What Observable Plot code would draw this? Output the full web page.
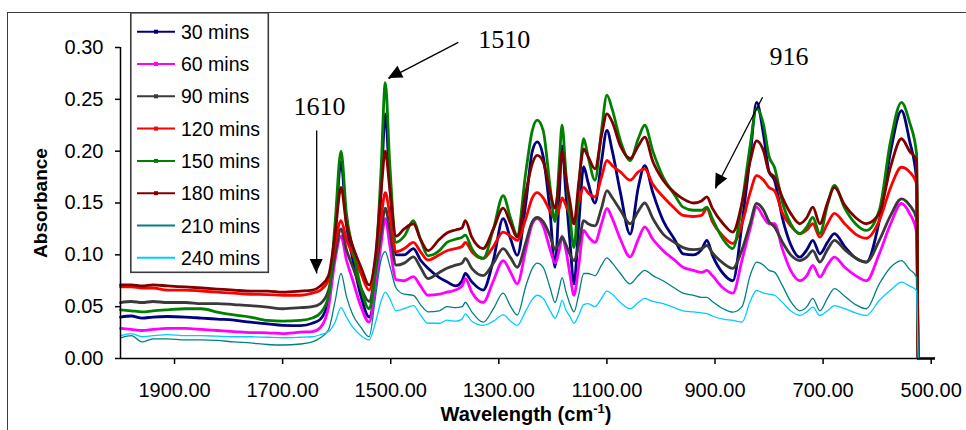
<!DOCTYPE html>
<html><head><meta charset="utf-8">
<script src="https://cdn.jsdelivr.net/npm/d3@7"></script>
<script src="https://cdn.jsdelivr.net/npm/@observablehq/plot@0.6"></script>
<style>
body{margin:0;background:#fff;}
#wrap{position:relative;width:966px;height:430px;overflow:hidden;font-family:Arial,"Liberation Sans",sans-serif;}
#border{position:absolute;left:7px;top:12px;width:1000px;height:1000px;border:1.6px solid #3c3c3c;box-sizing:border-box;}
#chart{position:absolute;left:0;top:0;}
#legend{position:absolute;left:130px;top:12px;}
</style></head>
<body><div id="wrap"><div id="border"></div><div id="chart"></div><div id="legend"></div></div>
<script>
// Wavenumber (cm-1) sample positions
const wavenumbers = [2000,1980,1960,1940,1913,1880,1850,1821,1790,1760,1728,1700,1667,1645,
1630,1615,1603,1592,1582,1570,1555,1540,1528,1518,1510,1502,1490,1475,1458,1445,1431,1410,1396,1380,1368,1362,1350,1329,1310,1292,1278,1266,1250,1238,1229,1218,1205,1196,1188,1183,1176,1168,1161,1152,1143,1135,1122,1110,1100,1090,1075,1057,1042,1030,1015,996,975,959,940,925,915,905,885,867,850,835,823,810,800,790,775,760,743,730,719,706,692,679,660,640,620,596,575,555,540,527,524,496];

const seriesNames = ["30 mins","60 mins","90 mins","120 mins","150 mins","180 mins","210 mins","240 mins"];
const seriesColors = ["#000080","#ff00ff","#3a3a3a","#ff0000","#008000","#800000","#008080","#00ccff"];

const s30 = [.040,.041,.039,.040,.0405,.040,.039,.038,.037,.035,.0334,.032,.0318,.034,
.038,.057,.120,.190,.130,.095,.060,.040,.080,.160,.236,.170,.100,.100,.106,.095,.087,.078,.074,.070,.075,.082,.074,.066,.095,.135,.115,.0995,.150,.200,.209,.195,.140,.088,.160,.205,.160,.110,.072,.130,.185,.170,.150,.190,.220,.200,.160,.120,.165,.186,.160,.133,.115,.101,.100,.105,.114,.100,.082,.075,.130,.195,.247,.215,.180,.172,.135,.110,.0977,.105,.114,.101,.112,.1205,.108,.097,.093,.133,.200,.239,.210,.172,0,0];
const s60 = [.029,.028,.027,.028,.029,.029,.028,.027,.026,.025,.0248,.024,.0254,.026,
.030,.050,.095,.118,.095,.075,.050,.035,.070,.110,.135,.110,.076,.075,.079,.070,.061,.062,.064,.066,.070,.077,.064,.054,.075,.0945,.083,.072,.105,.130,.135,.128,.105,.092,.105,.118,.105,.080,.061,.090,.1235,.118,.112,.130,.1447,.135,.115,.098,.115,.127,.115,.104,.095,.088,.085,.083,.085,.080,.068,.063,.095,.125,.146,.136,.130,.130,.105,.085,.075,.080,.0897,.0785,.090,.0977,.088,.080,.075,.101,.130,.1495,.140,.122,0,0];
const s90 = [.054,.055,.054,.055,.054,.054,.053,.053,.052,.051,.0495,.048,.049,.050,
.053,.066,.100,.125,.105,.088,.068,.055,.085,.120,.145,.125,.090,.092,.098,.088,.077,.083,.087,.090,.092,.0965,.087,.080,.092,.106,.097,.088,.112,.132,.136,.132,.118,.105,.112,.117,.110,.100,.0945,.110,.133,.130,.128,.145,.162,.155,.143,.130,.142,.150,.135,.120,.112,.107,.105,.106,.109,.102,.092,.087,.105,.130,.1495,.143,.132,.127,.112,.100,.0945,.098,.104,.093,.105,.114,.105,.097,.093,.114,.138,.154,.148,.135,0,0];
const s120 = [.069,.069,.068,.068,.066,.066,.065,.064,.063,.062,.0617,.061,.061,.063,
.066,.076,.110,.133,.115,.100,.082,.066,.095,.135,.160,.140,.103,.106,.112,.103,.095,.100,.104,.106,.108,.112,.103,.0965,.108,.122,.118,.114,.135,.155,.160,.155,.142,.135,.145,.155,.148,.138,.130,.150,.165,.160,.156,.175,.191,.186,.180,.172,.180,.183,.168,.156,.145,.138,.137,.138,.1447,.132,.118,.111,.130,.160,.1765,.172,.165,.162,.140,.128,.1205,.124,.130,.117,.130,.140,.130,.120,.116,.133,.165,.1845,.180,.169,0,0];
const s150 = [.047,.046,.045,.046,.047,.048,.048,.0447,.042,.040,.0367,.036,.0367,.039,
.044,.060,.130,.200,.140,.105,.068,.048,.090,.180,.266,.190,.112,.118,.133,.115,.099,.104,.112,.115,.117,.119,.106,.0965,.125,.157,.135,.119,.180,.220,.230,.220,.165,.132,.190,.225,.180,.135,.107,.165,.212,.195,.172,.220,.254,.240,.210,.191,.212,.225,.200,.175,.158,.146,.143,.143,.146,.135,.115,.106,.150,.205,.241,.225,.195,.1845,.150,.130,.1205,.127,.136,.1205,.148,.167,.145,.130,.1235,.143,.210,.247,.228,.1975,0,0];
const s180 = [.071,.071,.070,.071,.070,.069,.068,.067,.066,.065,.065,.064,.065,.066,
.070,.080,.120,.165,.130,.108,.088,.071,.100,.160,.200,.165,.118,.125,.130,.115,.104,.115,.121,.124,.126,.133,.117,.106,.125,.145,.130,.117,.160,.188,.196,.190,.160,.145,.175,.200,.175,.150,.130,.170,.202,.195,.183,.215,.236,.228,.205,.193,.205,.2135,.190,.172,.160,.154,.150,.152,.156,.145,.130,.122,.150,.190,.210,.200,.180,.175,.155,.140,.130,.136,.146,.130,.150,.165,.148,.136,.130,.140,.185,.212,.200,.191,0,0];
const s210 = [.020,.022,.016,.019,.019,.018,.018,.0174,.016,.015,.0135,.013,.014,.016,
.020,.028,.055,.082,.060,.042,.030,.021,.060,.095,.103,.090,.068,.062,.061,.052,.045,.046,.050,.049,.050,.054,.045,.035,.048,.063,.050,.042,.070,.087,.092,.088,.068,.054,.068,.078,.065,.052,.045,.062,.082,.082,.080,.090,.097,.092,.082,.072,.080,.085,.080,.075,.068,.063,.061,.059,.059,.055,.048,.0447,.050,.080,.093,.090,.085,.0833,.070,.055,.046,.050,.058,.046,.058,.0675,.060,.052,.048,.072,.088,.0945,.086,.0785,0,0];
const s240 = [.022,.024,.021,.022,.023,.022,.022,.0215,.021,.021,.0205,.020,.0205,.021,
.023,.026,.035,.049,.040,.030,.022,.018,.035,.055,.064,.058,.046,.048,.051,.042,.034,.034,.037,.036,.038,.043,.036,.032,.036,.042,.036,.032,.046,.057,.061,.058,.046,.039,.048,.056,.047,.040,.034,.042,.052,.053,.050,.058,.065,.062,.054,.048,.054,.058,.055,.053,.049,.046,.045,.044,.0434,.041,.038,.0367,.035,.055,.0656,.063,.062,.061,.054,.046,.0415,.045,.0495,.0415,.046,.051,.048,.044,.0415,.056,.066,.0736,.070,.0656,0,0];

const yTicks = [0, 0.05, 0.10, 0.15, 0.20, 0.25, 0.30];
const xTicks = [1900, 1700, 1500, 1300, 1100, 900, 700, 500];

const peakLabels = [
  {label: "1610", x: 1632, y: 0.243},
  {label: "1510", x: 1290, y: 0.3077},
  {label: "916", x: 763, y: 0.291}
];
const peakArrows = [
  {x1: 1637, y1: 0.220, x2: 1637, y2: 0.082},
  {x1: 1375, y1: 0.305, x2: 1504, y2: 0.270},
  {x1: 812, y1: 0.252, x2: 899, y2: 0.164}
];

const allSeries = [s30, s60, s90, s120, s150, s180, s210, s240];
const rows = [];
allSeries.forEach((vals, i) => vals.forEach((v, j) => rows.push({series: seriesNames[i], wn: wavenumbers[j], a: v})));

const arrowHeads = (index, scales) => {
  const g = d3.create("svg:g");
  peakArrows.forEach(a => {
    const x1 = scales.x(a.x1), y1 = scales.y(a.y1), x2 = scales.x(a.x2), y2 = scales.y(a.y2);
    const ang = Math.atan2(y2 - y1, x2 - x1);
    const L = 14, W = 6.5;
    const bx = x2 - L * Math.cos(ang), by = y2 - L * Math.sin(ang);
    const px = -Math.sin(ang) * W, py = Math.cos(ang) * W;
    g.append("path").attr("d", `M${x2},${y2}L${bx + px},${by + py}L${bx - px},${by - py}Z`).attr("fill", "#000");
  });
  return g.node();
};

const chart = Plot.plot({
  width: 966, height: 430,
  marginLeft: 120, marginRight: 31, marginTop: 47, marginBottom: 72,
  x: {domain: [2000, 492], label: null},
  y: {domain: [0, 0.30], label: null},
  style: {fontFamily: "Arial, 'Liberation Sans', sans-serif", fontSize: "20px", color: "#000", background: "transparent", overflow: "visible"},
  marks: [
    ...seriesNames.map((name, i) => Plot.line(rows.filter(r => r.series === name), {
      x: "wn", y: "a", stroke: seriesColors[i], strokeWidth: i < 6 ? 2.8 : 1.3, strokeLinejoin: "round", curve: "monotone-x"
    })),
    Plot.ruleX([2000], {y1: 0, y2: 0.30, stroke: "#000", strokeWidth: 1.5}),
    Plot.ruleY([0], {x1: 2000, x2: 492, stroke: "#000", strokeWidth: 1.5}),
    Plot.axisY({ticks: yTicks, tickFormat: d3.format(".2f"), tickSize: 5, tickPadding: 12, strokeWidth: 1.5, label: null}),
    Plot.axisX({ticks: xTicks, tickFormat: d3.format(".2f"), tickSize: 6, tickPadding: 18, strokeWidth: 1.5, label: null}),
    Plot.link(peakArrows, {x1: "x1", y1: "y1", x2: "x2", y2: "y2", stroke: "#000", strokeWidth: 1.3}),
    arrowHeads,
    Plot.text(peakLabels, {x: "x", y: "y", text: "label", fontFamily: "'Liberation Serif','Times New Roman',serif", fontSize: 26, fill: "#000"})
  ]
});
document.getElementById("chart").appendChild(chart);

const svg = d3.select(chart);
svg.append("text").attr("transform", "translate(47,203) rotate(-90)").attr("text-anchor", "middle")
  .attr("font-weight", "bold").attr("font-size", 19).attr("fill", "#000").text("Absorbance");
const xl = svg.append("text").attr("x", 526).attr("y", 421).attr("text-anchor", "middle")
  .attr("font-weight", "bold").attr("font-size", 20).attr("fill", "#000");
xl.append("tspan").text("Wavelength (cm");
xl.append("tspan").attr("font-size", 13).attr("dy", -8).text("-1");
xl.append("tspan").attr("dy", 8).text(")");

// legend
const leg = d3.select("#legend").append("svg").attr("width", 140).attr("height", 262);
leg.append("rect").attr("x", 0.8).attr("y", 0.8).attr("width", 137.5).attr("height", 259.5)
  .attr("fill", "#fff").attr("stroke", "#3c3c3c").attr("stroke-width", 1.6);
seriesNames.forEach((n, i) => {
  const cy = 19.7 + i * 32.3;
  leg.append("line").attr("x1", 7).attr("x2", 45).attr("y1", cy).attr("y2", cy)
    .attr("stroke", seriesColors[i]).attr("stroke-width", 2);
  if (i < 6) leg.append("rect").attr("x", 24).attr("y", cy - 2).attr("width", 4).attr("height", 4).attr("fill", seriesColors[i]);
  leg.append("text").attr("x", 51).attr("y", cy).attr("dy", "0.36em").attr("font-size", 19.5)
    .attr("fill", "#000").text(n);
});
</script>
</body></html>
